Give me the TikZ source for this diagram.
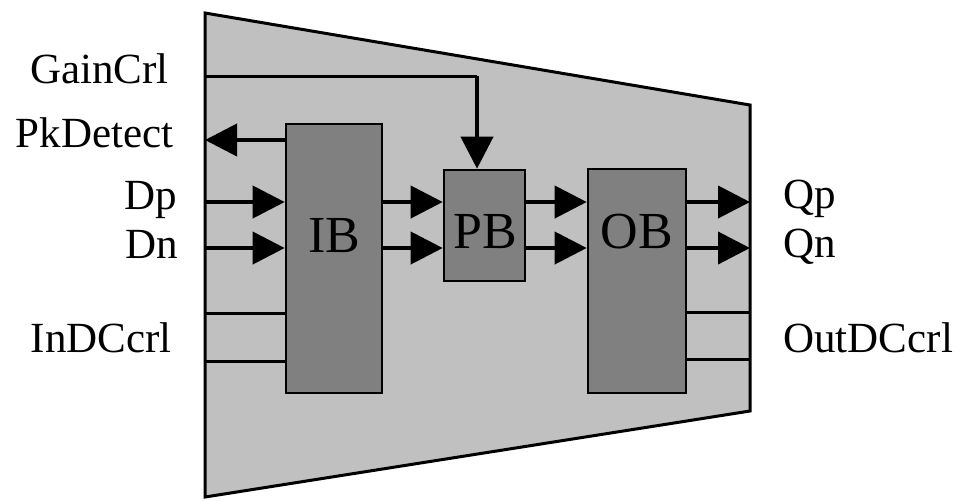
\documentclass[tikz,border=0pt]{standalone}
\usepackage{fontspec}
\setmainfont{Liberation Serif}
\usetikzlibrary{arrows.meta}
\definecolor{shellgray}{RGB}{192,192,192}
\definecolor{blkgray}{RGB}{128,128,128}
\tikzset{
	sig/.style={line width=2pt, -{Triangle[length=16pt,width=16pt]}},
	wire/.style={line width=1.5pt},
	blk/.style={draw, line width=1.3pt, fill=blkgray, inner sep=0pt},
	pin/.style={font=\fontsize{21.5}{24}\selectfont, inner sep=0pt},
	blklbl/.style={font=\fontsize{26}{30}\selectfont, inner sep=0pt, anchor=base},
}
\begin{document}
\begin{tikzpicture}[x=0.5pt,y=-0.5pt]
		\useasboundingbox (0,0) rectangle (956,500);
		% outer shell
		\coordinate (tl) at (205,13);
		\coordinate (tr) at (750,105);
		\coordinate (br) at (750,411);
		\coordinate (bl) at (205,497);
		\draw[wire, fill=shellgray, line join=miter] (tl) -- (tr) -- (br) -- (bl) -- cycle;
		% pins on the shell
		\coordinate (gc) at (205,76);
		\coordinate (gcx) at (477,76);
		\coordinate (pk) at (205,140);
		\coordinate (dp) at (205,202);
		\coordinate (dn) at (205,248);
		\coordinate (qp) at (750,202);
		\coordinate (qn) at (750,248);
		\coordinate (idca) at (205,313);
		\coordinate (idcb) at (205,361);
		\coordinate (odca) at (750,312);
		\coordinate (odcb) at (750,359);
		% blocks
		\node[blk, minimum width=48pt, minimum height=134.5pt] (IB) at (334,258.5) {};
		\node[blk, minimum width=40.5pt, minimum height=55.5pt] (PB) at (484.5,225.5) {};
		\node[blk, minimum width=49pt, minimum height=112pt] (OB) at (637,281) {};
		\node[blklbl] at (334,252) {IB};
		\node[blklbl] at (485,248) {PB};
		\node[blklbl] at (637,248) {OB};
		% signal paths
		\foreach \a/\b in {dp/qp, dn/qn} {
			\draw[sig] (\a) -- (\a -| IB.west);
			\draw[sig] (\a -| IB.east) -- (\a -| PB.west);
			\draw[sig] (\a -| PB.east) -- (\a -| OB.west);
			\draw[sig] (\a -| OB.east) -- (\b);
		}
		\draw[wire] (gc) -- (gcx);
		\draw[sig] (gcx) -- (gcx |- PB.north);
		\draw[sig] (pk -| IB.west) -- (pk);
		\foreach \c in {idca, idcb} \draw[wire] (\c) -- (\c -| IB.west);
		\foreach \c in {odca, odcb} \draw[wire] (\c -| OB.east) -- (\c);
		% labels
		\node[pin, anchor=base west] at (30,83) {GainCrl};
		\node[pin, anchor=base east] at (174,147) {PkDetect};
		\node[pin, anchor=base east] at (177,209) {Dp};
		\node[pin, anchor=base east] at (178,258) {Dn};
		\node[pin, anchor=base east] at (172,352) {InDCcrl};
		\node[pin, anchor=base west] at (783,208) {Qp};
		\node[pin, anchor=base west] at (783,257) {Qn};
		\node[pin, anchor=base west] at (783,352) {OutDCcrl};
\end{tikzpicture}
\end{document}
